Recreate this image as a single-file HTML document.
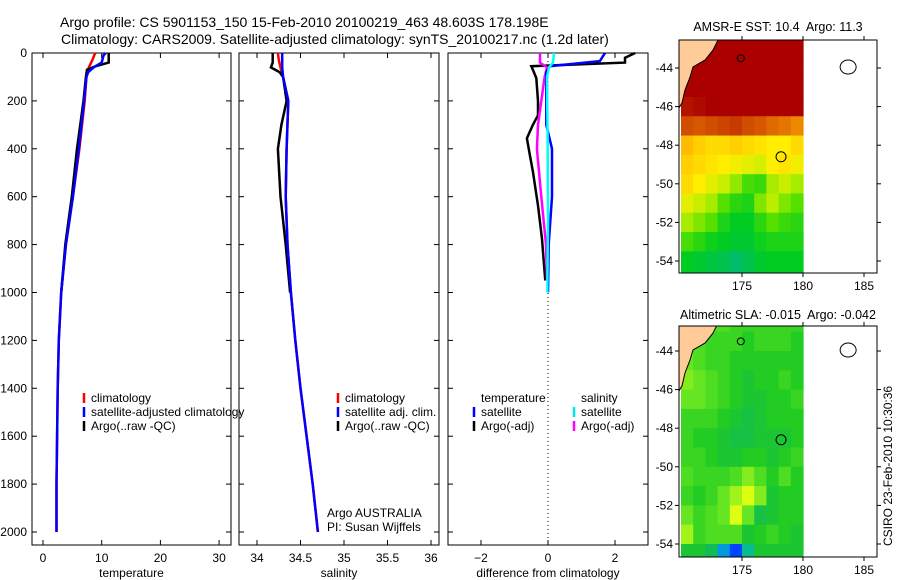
<!DOCTYPE html>
<html><head><meta charset="utf-8">
<style>
body{margin:0;background:#fff;}
svg{display:block;font-family:"Liberation Sans",sans-serif;}
text{fill:#000;white-space:pre;}
</style></head>
<body>
<svg id="fig" width="900" height="580" viewBox="0 0 900 580">
<text x="60" y="27" font-size="14">Argo profile: CS 5901153_150 15-Feb-2010 20100219_463 48.603S 178.198E</text>
<text x="61" y="44" font-size="14">Climatology: CARS2009. Satellite-adjusted climatology: synTS_20100217.nc (1.2d later)</text>
<text x="778" y="31" font-size="12.5" text-anchor="middle" xml:space="preserve">AMSR-E SST: 10.4  Argo: 11.3</text>
<text x="778" y="319" font-size="12.5" text-anchor="middle" xml:space="preserve">Altimetric SLA: -0.015  Argo: -0.042</text>
<text transform="translate(892,546) rotate(-90)" font-size="12">CSIRO 23-Feb-2010 10:30:36</text>
<g id="g"></g>
</svg>
<script>
// ---------- data ----------
const depthTicks=[0,200,400,600,800,1000,1200,1400,1600,1800,2000];
const tempTicks=[0,10,20,30];
const salTicks=[34,34.5,35,35.5,36];
const diffTicks=[-2,0,2];
const tDepthClim=[0,30,60,100,200,400,600,800,1000,1200,1400,1600,1800,2000];
const tClim=[8.9,8.4,7.8,7.4,7.1,6.2,5.1,3.9,3.1,2.7,2.5,2.4,2.3,2.3];
const tDepthSat=[0,10,40,60,80,100,200,400,600,800,1000,1200,1400,1600,1800,2000];
const tSat=[10.7,10.3,10.0,8.6,7.7,7.4,7.0,6.1,5.1,3.9,3.1,2.7,2.5,2.4,2.3,2.3];
const tDepthArgo=[0,40,55,70,100,200,400,600,800,1000];
const tArgo=[11.2,11.2,9.0,7.5,7.3,6.9,5.8,4.9,3.8,3.1];
const sDepthClim=[0,30,60,100,200,400,600,800,1000,1200,1400,1600,1800,2000];
const sClim=[34.24,34.25,34.27,34.3,34.36,34.34,34.33,34.35,34.39,34.44,34.5,34.57,34.64,34.7];
const sSat=[34.29,34.29,34.29,34.3,34.36,34.34,34.33,34.35,34.39,34.44,34.5,34.57,34.64,34.7];
const sDepthArgo=[0,40,60,80,100,200,300,400,600,800,1000];
const sArgo=[34.18,34.18,34.16,34.26,34.3,34.34,34.28,34.24,34.27,34.33,34.38];
const dDepthT=[0,20,40,55,70,105,200,260,300,356,420,495,637,776,915,950];
const dArgoT=[2.6,2.3,2.3,-0.5,-0.45,-0.35,-0.3,-0.3,-0.45,-0.63,-0.55,-0.45,-0.3,-0.18,-0.1,-0.08];
const dDepthS=[0,34,55,80,150,300,400,600,800,1000];
const dSatT=[1.7,1.55,0.05,-0.05,-0.05,-0.05,0.12,0.12,0.02,0.0];
const dDepthS2=[0,40,60,100,300,400,600,800,950];
const dArgoS=[-0.24,-0.24,-0.03,-0.1,-0.3,-0.33,-0.2,-0.06,-0.03];
const dDepthS3=[0,40,60,100,400,700,1000];
const dSatS=[0.18,0.15,0.03,-0.03,-0.01,0.0,-0.02];
// maps
const latTicks=[-44,-46,-48,-50,-52,-54];
const lonTicks=[175,180,185];
const gridLons=[170,171,172,173,174,175,176,177,178,179]; // cell west edges (1 deg)
const sstLats=[-42.5,-43.5,-44.5,-45.5,-46.5,-47.5,-48.5,-49.5,-50.5,-51.5,-52.5,-53.5]; // cell north edges
const sstGrid=[
[13,13,13,13,13,13,13,13,13,13],
[13,13,13,13,13,13,13,13,13,13],
[13,13,13,13,13,13,13,13,13,13],
[12.6,12.7,12.9,13,13,13,13,12.9,12.8,12.8],
[12.0,11.9,12.0,12.1,12.2,12.0,11.9,11.7,11.6,11.4],
[10.7,10.5,10.4,10.4,10.5,10.4,10.3,10.2,10.2,10.4],
[10.5,10.4,10.3,10.2,10.1,10.0,9.9,10.2,10.3,10.1],
[10.4,10.2,10.0,9.8,9.5,9.1,9.0,9.6,9.8,9.6],
[10.0,9.8,9.6,9.2,8.9,8.8,9.4,9.7,9.4,9.2],
[9.6,9.4,9.2,8.8,8.6,8.6,8.9,9.2,9.0,8.9],
[9.1,8.9,8.7,8.6,8.5,8.5,8.7,8.8,8.8,8.8],
[8.6,8.5,8.4,8.3,8.1,8.3,8.5,8.6,8.6,8.6]];
const slaLats=[-42,-43,-44,-45,-46,-47,-48,-49,-50,-51,-52,-53,-54];
const slaGrid=[
[0.03,0.03,0.03,0.03,0.02,0.02,0.02,0.02,0.02,0.02],
[0.03,0.03,0.02,0.02,0.02,0.01,0.02,0.02,0.02,0.01],
[0.04,0.03,0.02,0.02,0.01,0.01,0.01,0.01,0.01,0.01],
[0.05,0.04,0.03,0.02,0.01,0.0,0.01,0.01,0.02,0.01],
[0.04,0.04,0.03,0.02,0.01,0.0,0.0,0.01,0.01,0.02],
[0.02,0.02,0.02,0.01,0.0,-0.01,0.0,0.01,0.01,0.01],
[0.02,0.01,0.01,0.0,-0.01,-0.01,0.0,0.0,0.0,0.01],
[0.02,0.02,0.01,0.0,0.0,0.01,0.01,0.0,0.01,0.02],
[0.03,0.02,0.02,0.02,0.03,0.05,0.03,0.01,0.03,0.01],
[0.02,0.01,0.02,0.04,0.06,0.08,0.05,0.0,0.01,0.01],
[0.04,0.02,0.03,0.04,0.08,0.04,-0.01,0.0,0.01,0.01],
[0.06,0.02,0.03,0.03,0.03,0.0,0.01,0.02,0.01,0.0],
[0.0,0.0,-0.02,-0.1,-0.15,-0.05,0.0,0.0,0.0,0.0]];
const coastLon=[173.03,173.03,172.62,171.97,170.98,170.74,170.33,170.08,169.84];
const coastLat=[-41.5,-42.55,-43.07,-43.59,-43.95,-44.47,-45.14,-45.81,-46.07];
const floatLon=178.2, floatLat=-48.6;

// ---------- helpers ----------
const NS='http://www.w3.org/2000/svg';
const G=document.getElementById('g');
function mk(tag,attrs,parent){const e=document.createElementNS(NS,tag);for(const k in attrs)e.setAttribute(k,attrs[k]);(parent||G).appendChild(e);return e;}
function txt(x,y,s,size,anchor,parent){const t=mk('text',{x:x,y:y,'font-size':size||12,'text-anchor':anchor||'start'},parent);t.textContent=s;return t;}
const yD=d=>53+d*0.2395;

function panel(name,x0,x1,xs,xticks,xlab,fmt){
  const g=mk('g',{});
  
  
  const r=mk('rect',{x:x0,y:53,width:x1-x0,height:492,fill:'none',stroke:'#000','stroke-width':1},g);
  
  
  xticks.forEach(v=>{const x=xs(v);
    mk('line',{x1:x,x2:x,y1:545,y2:540,stroke:'#000'},g);
    mk('line',{x1:x,x2:x,y1:53,y2:58,stroke:'#000'},g);
    const t=txt(x,562,fmt?fmt(v):String(v),12,'middle',g);
    
    
  });
  depthTicks.forEach(d=>{const y=yD(d);
    mk('line',{x1:x0,x2:x0+5,y1:y,y2:y,stroke:'#000'},g);
    mk('line',{x1:x1,x2:x1-5,y1:y,y2:y,stroke:'#000'},g);
  });
  const xl=txt((x0+x1)/2,577,xlab,12,'middle',g);
  
  
  return g;
}
function series(g,name,xs,vals,depths,color,w){
  const pts=vals.map((v,i)=>xs(v).toFixed(1)+','+yD(depths[i]).toFixed(1)).join(' ');
  const p=mk('polyline',{points:pts,fill:'none',stroke:color,'stroke-width':w||2.5},g);
  
  
}
function legend(g,x,y,color,label){
  mk('line',{x1:x,x2:x,y1:y-9,y2:y+1,stroke:color,'stroke-width':2.5},g);
  const t=txt(x+7,y,label,12,'start',g);
  
  
}
depthTicks.forEach(d=>{const t=txt(27,yD(d)+4,String(d),12,'end');
  
  });

// panel 1 temperature
const xT=v=>43+v*5.87;
const p1=panel('temperature-panel',32,231,xT,tempTicks,'temperature');
series(p1,'temp-climatology',xT,tClim,tDepthClim,'#ff0000');
series(p1,'temp-argo',xT,tArgo,tDepthArgo,'#000000');
series(p1,'temp-satellite',xT,tSat,tDepthSat,'#0000ff');
legend(p1,84,402,'#ff0000','climatology');
legend(p1,84,416,'#0000ff','satellite-adjusted climatology');
legend(p1,84,430,'#000000','Argo(..raw -QC)');

// panel 2 salinity
const xS=v=>257+(v-34)*87;
const p2=panel('salinity-panel',239,439,xS,salTicks,'salinity');
series(p2,'sal-climatology',xS,sClim,sDepthClim,'#ff0000');
series(p2,'sal-argo',xS,sArgo,sDepthArgo,'#000000');
series(p2,'sal-satellite',xS,sSat,sDepthClim,'#0000ff');
legend(p2,338,402,'#ff0000','climatology');
legend(p2,338,416,'#0000ff','satellite adj. clim.');
legend(p2,338,430,'#000000','Argo(..raw -QC)');
const a1=txt(327,517,'Argo AUSTRALIA',12,'start',p2);
const a2=txt(327,531,'PI: Susan Wijffels',12,'start',p2);

// panel 3 difference
const xDf=v=>548+v*33.5;
const p3=panel('difference-panel',448,648,xDf,diffTicks,'difference from climatology',v=>v<0?'\u2212'+(-v):String(v));
const zl=mk('line',{x1:xDf(0),x2:xDf(0),y1:53,y2:545,stroke:'#000','stroke-dasharray':'1,3'},p3);

series(p3,'diff-temp-argo',xDf,dArgoT,dDepthT,'#000000');
series(p3,'diff-sal-argo',xDf,dArgoS,dDepthS2,'#ff00ff');
series(p3,'diff-temp-satellite',xDf,dSatT,dDepthS,'#0000ff');
series(p3,'diff-sal-satellite',xDf,dSatS,dDepthS3,'#00ffff');
const lt=txt(481,402,'temperature',12,'start',p3);
const ls=txt(581,402,'salinity',12,'start',p3);
legend(p3,474,416,'#0000ff','satellite');
legend(p3,474,430,'#000000','Argo(-adj)');
legend(p3,574,416,'#00e5ee','satellite');
legend(p3,574,430,'#ff00ff','Argo(-adj)');

// ---------- maps ----------
function lerpColor(stops,v){
  if(v<=stops[0][0])return stops[0][1];
  for(let i=1;i<stops.length;i++){if(v<=stops[i][0]){const a=stops[i-1],b=stops[i],t=(v-a[0])/(b[0]-a[0]);
    const ca=a[1].match(/\w\w/g).map(h=>parseInt(h,16)),cb=b[1].match(/\w\w/g).map(h=>parseInt(h,16));
    return 'rgb('+ca.map((c,j)=>Math.round(c+(cb[j]-c)*t)).join(',')+')';}}
  return stops[stops.length-1][1];
}
const sstStops=[[8,'#00b878'],[8.6,'#00cc22'],[9.2,'#55e000'],[9.7,'#bbee00'],[10.2,'#ffee00'],[10.7,'#ffbb00'],[11.4,'#ee8800'],[12.1,'#cc4400'],[12.8,'#aa0000']];
const slaStops=[[-0.15,'#0044ff'],[-0.08,'#00bbcc'],[-0.02,'#11bb55'],[0.01,'#22cc22'],[0.04,'#66e622'],[0.08,'#ddff11']];
function drawMap(name,top,bot,lat44y,ky,lats,grid,stops){
  const X0=679,X1=877,kx=12.2;
  const lx=lon=>742+(lon-175)*kx, ly=lat=>lat44y+(-44-lat)*ky;
  const g=mk('g',{});
  
  
  const cid='clip-'+name;
  const cp=mk('clipPath',{id:cid},g);mk('rect',{x:X0,y:top,width:X1-X0,height:bot-top},cp);
  const cg=mk('g',{'clip-path':'url(#'+cid+')'},g);
  grid.forEach((row,i)=>row.forEach((v,j)=>{
    const y0=ly(lats[i]),y1=i<lats.length-1?ly(lats[i+1]):bot+2;
    const c=mk('rect',{x:lx(gridLons[j]),y:y0,width:kx+0.6,height:y1-y0+0.6,fill:lerpColor(stops,v)},cg);
    
    
  }));
  let d='M'+(X0-2)+','+(top-20);
  coastLon.forEach((lo,i)=>{d+=' L'+lx(lo).toFixed(1)+','+ly(coastLat[i]).toFixed(1);});
  d+=' L'+(X0-2)+','+ly(coastLat[coastLat.length-1]).toFixed(1)+' Z';
  const land=mk('path',{d:d,fill:'#ffcc99',stroke:'#000','stroke-width':1},cg);
  
  const ch=mk('ellipse',{cx:lx(183.7),cy:ly(-43.95),rx:8,ry:7,fill:'none',stroke:'#000'},cg);
  
  mk('circle',{cx:lx(174.9),cy:ly(-43.5),r:3.5,fill:'none',stroke:'#000'},cg);
  const fc=mk('circle',{cx:lx(floatLon),cy:ly(floatLat),r:5,fill:'none',stroke:'#000'},cg);
  
  mk('rect',{x:X0,y:top,width:X1-X0,height:bot-top,fill:'none',stroke:'#000'},g);
  latTicks.forEach(la=>{const y=ly(la);
    mk('line',{x1:X0,x2:X0-4,y1:y,y2:y,stroke:'#000'},g);
    mk('line',{x1:X1,x2:X1+4,y1:y,y2:y,stroke:'#000'},g);
    const t=txt(X0-6,y+4,'-'+(-la),12,'end',g);});
  lonTicks.forEach(lo=>{const x=lx(lo);
    mk('line',{x1:x,x2:x,y1:bot,y2:bot+4,stroke:'#000'},g);
    mk('line',{x1:x,x2:x,y1:top,y2:top-4,stroke:'#000'},g);
    const t=txt(x,bot+17,String(lo),12,'middle',g);});
}
drawMap('sst-map',40,273,68,19.3,sstLats,sstGrid,sstStops);
drawMap('sla-map',326,557,351,19.3,slaLats,slaGrid,slaStops);
</script>
</body></html>
